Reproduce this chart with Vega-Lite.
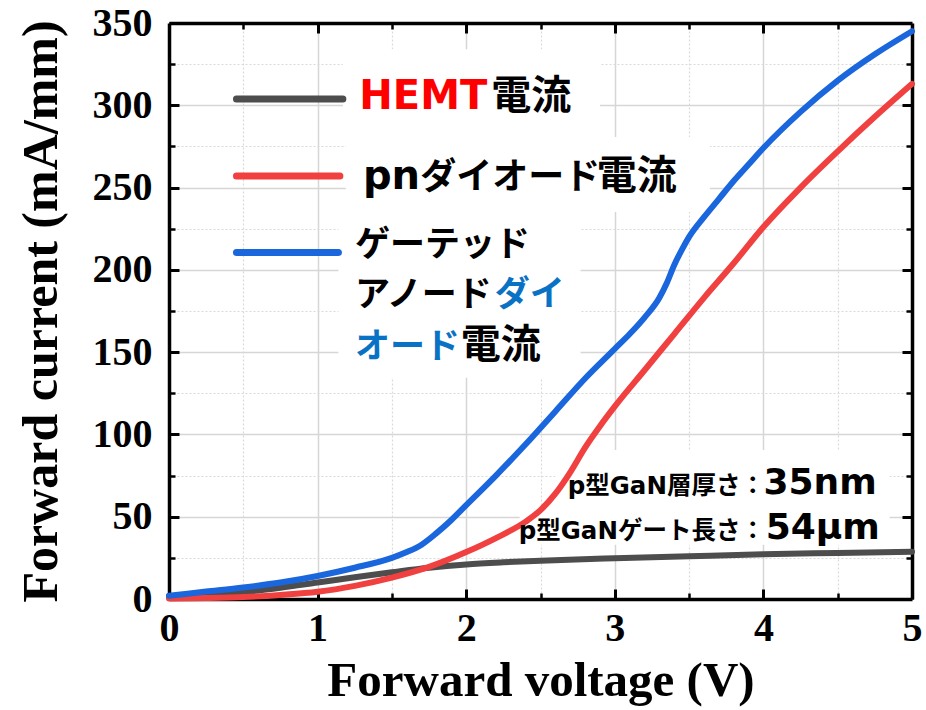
{
  "$schema": "https://vega.github.io/schema/vega-lite/v6.json",
  "width": 743,
  "height": 576,
  "autosize": {"type": "none"},
  "padding": {"left": 169, "top": 23, "right": 14, "bottom": 111},
  "background": "white",
  "config": {"view": {"stroke": null}},
  "datasets": {
    "curves": [
      {"V": 0, "I": 1.5, "s": "HEMT"}, {"V": 0.25, "I": 2.5, "s": "HEMT"}, {"V": 0.5, "I": 4.2, "s": "HEMT"}, {"V": 0.75, "I": 6.8, "s": "HEMT"},
      {"V": 1, "I": 10, "s": "HEMT"}, {"V": 1.25, "I": 13.2, "s": "HEMT"}, {"V": 1.5, "I": 16.2, "s": "HEMT"}, {"V": 1.75, "I": 19, "s": "HEMT"},
      {"V": 2, "I": 21, "s": "HEMT"}, {"V": 2.25, "I": 22.3, "s": "HEMT"}, {"V": 2.5, "I": 23.3, "s": "HEMT"}, {"V": 3, "I": 24.8, "s": "HEMT"},
      {"V": 3.5, "I": 26, "s": "HEMT"}, {"V": 4, "I": 27.2, "s": "HEMT"}, {"V": 4.5, "I": 28, "s": "HEMT"}, {"V": 5, "I": 28.7, "s": "HEMT"},
      {"V": 0, "I": 0.3, "s": "pn"}, {"V": 0.25, "I": 0.6, "s": "pn"}, {"V": 0.5, "I": 1.2, "s": "pn"}, {"V": 0.75, "I": 2.5, "s": "pn"},
      {"V": 1, "I": 4.4, "s": "pn"}, {"V": 1.25, "I": 8, "s": "pn"}, {"V": 1.5, "I": 13, "s": "pn"}, {"V": 1.75, "I": 19.5, "s": "pn"},
      {"V": 2, "I": 28.5, "s": "pn"}, {"V": 2.2, "I": 37, "s": "pn"}, {"V": 2.4, "I": 47, "s": "pn"}, {"V": 2.5, "I": 54, "s": "pn"},
      {"V": 2.6, "I": 64, "s": "pn"}, {"V": 2.7, "I": 77, "s": "pn"}, {"V": 2.8, "I": 92, "s": "pn"}, {"V": 2.9, "I": 105, "s": "pn"},
      {"V": 3, "I": 117, "s": "pn"}, {"V": 3.2, "I": 139, "s": "pn"}, {"V": 3.4, "I": 161, "s": "pn"}, {"V": 3.6, "I": 183, "s": "pn"},
      {"V": 3.8, "I": 204, "s": "pn"}, {"V": 4, "I": 226, "s": "pn"}, {"V": 4.25, "I": 250, "s": "pn"}, {"V": 4.5, "I": 272, "s": "pn"},
      {"V": 4.75, "I": 293, "s": "pn"}, {"V": 5, "I": 313, "s": "pn"},
      {"V": 0, "I": 2, "s": "gated"}, {"V": 0.25, "I": 4.5, "s": "gated"}, {"V": 0.5, "I": 7, "s": "gated"}, {"V": 0.75, "I": 10, "s": "gated"},
      {"V": 1, "I": 14, "s": "gated"}, {"V": 1.25, "I": 19, "s": "gated"}, {"V": 1.5, "I": 25, "s": "gated"}, {"V": 1.6, "I": 28.5, "s": "gated"},
      {"V": 1.7, "I": 33, "s": "gated"}, {"V": 1.8, "I": 40, "s": "gated"}, {"V": 1.9, "I": 48, "s": "gated"}, {"V": 2, "I": 57, "s": "gated"},
      {"V": 2.2, "I": 75, "s": "gated"}, {"V": 2.4, "I": 94, "s": "gated"}, {"V": 2.6, "I": 114, "s": "gated"}, {"V": 2.8, "I": 134, "s": "gated"},
      {"V": 3, "I": 152, "s": "gated"}, {"V": 3.1, "I": 161, "s": "gated"}, {"V": 3.2, "I": 171, "s": "gated"}, {"V": 3.3, "I": 183, "s": "gated"},
      {"V": 3.35, "I": 192, "s": "gated"}, {"V": 3.4, "I": 203, "s": "gated"}, {"V": 3.45, "I": 212, "s": "gated"}, {"V": 3.5, "I": 220, "s": "gated"},
      {"V": 3.6, "I": 232, "s": "gated"}, {"V": 3.7, "I": 243, "s": "gated"}, {"V": 3.8, "I": 254, "s": "gated"}, {"V": 3.9, "I": 264, "s": "gated"},
      {"V": 4, "I": 274, "s": "gated"}, {"V": 4.25, "I": 296, "s": "gated"}, {"V": 4.5, "I": 315, "s": "gated"}, {"V": 4.75, "I": 331, "s": "gated"},
      {"V": 5, "I": 345, "s": "gated"}
    ]
  },
  "layer": [
    {
      "data": {"values": [{}]},
      "mark": {"type": "point", "opacity": 0},
      "encoding": {
        "x": {"datum": 0, "type": "quantitative", "scale": {"domain": [0, 5], "nice": false},
          "axis": {"orient": "bottom", "values": [0.5, 1.5, 2.5, 3.5, 4.5], "labels": false, "title": null, "domain": false,
            "tickSize": -6, "tickWidth": 2.5, "tickColor": "black", "grid": true, "gridColor": "#dadada", "gridWidth": 1.2, "gridDash": [2, 2]}},
        "y": {"datum": 0, "type": "quantitative", "scale": {"domain": [0, 350], "nice": false},
          "axis": {"orient": "left", "values": [25, 75, 125, 175, 225, 275, 325], "labels": false, "title": null, "domain": false,
            "tickSize": -6, "tickWidth": 2.5, "tickColor": "black", "grid": true, "gridColor": "#dadada", "gridWidth": 1.2, "gridDash": [2, 2]}}
      }
    },
    {
      "data": {"values": [{}]},
      "mark": {"type": "point", "opacity": 0},
      "encoding": {
        "x": {"datum": 0, "type": "quantitative", "scale": {"domain": [0, 5], "nice": false},
          "axis": {"orient": "top", "values": [1, 2, 3, 4], "labels": false, "title": null, "domain": true, "domainColor": "black", "domainWidth": 3.5,
            "tickSize": -10, "tickWidth": 3, "tickColor": "black", "grid": false}},
        "y": {"datum": 0, "type": "quantitative", "scale": {"domain": [0, 350], "nice": false},
          "axis": {"orient": "right", "values": [50, 100, 150, 200, 250, 300], "labels": false, "title": null, "domain": true, "domainColor": "black", "domainWidth": 3.5,
            "tickSize": -10, "tickWidth": 3, "tickColor": "black", "grid": false}}
      }
    },
    {
      "data": {"values": [{}]},
      "mark": {"type": "point", "opacity": 0},
      "encoding": {
        "x": {"datum": 0, "type": "quantitative", "scale": {"domain": [0, 5], "nice": false},
          "axis": {"orient": "top", "values": [0.5, 1.5, 2.5, 3.5, 4.5], "labels": false, "title": null, "domain": false,
            "tickSize": -6, "tickWidth": 2.5, "tickColor": "black", "grid": false}},
        "y": {"datum": 0, "type": "quantitative", "scale": {"domain": [0, 350], "nice": false},
          "axis": {"orient": "right", "values": [25, 75, 125, 175, 225, 275, 325], "labels": false, "title": null, "domain": false,
            "tickSize": -6, "tickWidth": 2.5, "tickColor": "black", "grid": false}}
      }
    },
    {"data": {"values": [{}]}, "mark": {"type": "rect", "fill": "white"},
      "encoding": {"x": {"datum": 1.17, "type": "quantitative", "axis": null}, "x2": {"datum": 2.9}, "y": {"datum": 280.7, "type": "quantitative", "axis": null}, "y2": {"datum": 334}}},
    {"data": {"values": [{}]}, "mark": {"type": "rect", "fill": "white"},
      "encoding": {"x": {"datum": 1.19, "type": "quantitative", "axis": null}, "x2": {"datum": 3.64}, "y": {"datum": 235.1, "type": "quantitative", "axis": null}, "y2": {"datum": 280.7}}},
    {"data": {"values": [{}]}, "mark": {"type": "rect", "fill": "white"},
      "encoding": {"x": {"datum": 1.14, "type": "quantitative", "axis": null}, "x2": {"datum": 2.77}, "y": {"datum": 134.5, "type": "quantitative", "axis": null}, "y2": {"datum": 235.1}}},
    {"data": {"values": [{}]}, "mark": {"type": "rect", "fill": "white"},
      "encoding": {"x": {"datum": 2.6, "type": "quantitative", "axis": null}, "x2": {"datum": 4.85}, "y": {"datum": 57.1, "type": "quantitative", "axis": null}, "y2": {"datum": 90.5}}},
    {"data": {"values": [{}]}, "mark": {"type": "rect", "fill": "white"},
      "encoding": {"x": {"datum": 2.36, "type": "quantitative", "axis": null}, "x2": {"datum": 4.85}, "y": {"datum": 33, "type": "quantitative", "axis": null}, "y2": {"datum": 57.1}}},
    {
      "data": {"name": "curves"},
      "mark": {"type": "line", "strokeWidth": 6, "interpolate": "monotone", "strokeCap": "round"},
      "encoding": {
        "x": {"field": "V", "type": "quantitative", "scale": {"domain": [0, 5], "nice": false},
          "axis": {"orient": "bottom", "values": [0, 1, 2, 3, 4, 5], "title": "Forward voltage (V)",
            "titleFont": "Liberation Serif", "titleFontSize": 49, "titleFontWeight": "bold", "titleColor": "black", "titlePadding": 8,
            "labelFont": "Liberation Serif", "labelFontSize": 40, "labelFontWeight": "bold", "labelColor": "black", "labelPadding": 19, "labelFlush": false,
            "tickSize": -10, "tickWidth": 3, "tickColor": "black", "domainColor": "black", "domainWidth": 3.5,
            "grid": true, "gridColor": "#d6d6d6", "gridWidth": 1.5}},
        "y": {"field": "I", "type": "quantitative", "scale": {"domain": [0, 350], "nice": false},
          "axis": {"orient": "left", "values": [0, 50, 100, 150, 200, 250, 300, 350], "title": "Forward current (mA/mm)",
            "titleFont": "Liberation Serif", "titleFontSize": 50, "titleFontWeight": "bold", "titleColor": "black", "titlePadding": 26,
            "labelFont": "Liberation Serif", "labelFontSize": 40, "labelFontWeight": "bold", "labelColor": "black", "labelPadding": 27, "labelFlush": false,
            "tickSize": -10, "tickWidth": 3, "tickColor": "black", "domainColor": "black", "domainWidth": 3.5,
            "grid": true, "gridColor": "#d6d6d6", "gridWidth": 1.5}},
        "color": {"field": "s", "type": "nominal", "scale": {"domain": ["HEMT", "pn", "gated"], "range": ["#4d4d4d", "#f0403f", "#1a66dc"]}, "legend": null},
        "order": {"field": "V", "type": "quantitative"}
      }
    },
    {"data": {"values": [{}]}, "mark": {"type": "rule", "strokeWidth": 7, "strokeCap": "round", "color": "#4d4d4d"},
      "encoding": {"x": {"datum": 0.454, "type": "quantitative", "axis": null}, "x2": {"datum": 1.17}, "y": {"datum": 303.8, "type": "quantitative", "axis": null}}},
    {"data": {"values": [{}]}, "mark": {"type": "rule", "strokeWidth": 7, "strokeCap": "round", "color": "#f0403f"},
      "encoding": {"x": {"datum": 0.454, "type": "quantitative", "axis": null}, "x2": {"datum": 1.15}, "y": {"datum": 257.1, "type": "quantitative", "axis": null}}},
    {"data": {"values": [{}]}, "mark": {"type": "rule", "strokeWidth": 7, "strokeCap": "round", "color": "#1a66dc"},
      "encoding": {"x": {"datum": 0.454, "type": "quantitative", "axis": null}, "x2": {"datum": 1.14}, "y": {"datum": 210.6, "type": "quantitative", "axis": null}}},
    {"data": {"values": [{}]}, "mark": {"type": "text", "text": "HEMT", "font": "DejaVu Sans, Noto Sans CJK JP", "fontWeight": "bold", "fontSize": 40, "color": "#ff0000", "align": "left", "baseline": "alphabetic"},
      "encoding": {"x": {"datum": 1.281, "type": "quantitative", "axis": null}, "y": {"datum": 298.0, "type": "quantitative", "axis": null}}},
    {"data": {"values": [{}]}, "mark": {"type": "text", "text": "電流", "font": "Noto Sans CJK JP", "fontWeight": "bold", "fontSize": 40, "color": "black", "align": "left", "baseline": "alphabetic"},
      "encoding": {"x": {"datum": 2.169, "type": "quantitative", "axis": null}, "y": {"datum": 298.0, "type": "quantitative", "axis": null}}},
    {"data": {"values": [{}]}, "mark": {"type": "text", "text": "pn", "font": "DejaVu Sans", "fontWeight": "bold", "fontSize": 40, "color": "black", "align": "left", "baseline": "alphabetic"},
      "encoding": {"x": {"datum": 1.305, "type": "quantitative", "axis": null}, "y": {"datum": 249.1, "type": "quantitative", "axis": null}}},
    {"data": {"values": [{}]}, "mark": {"type": "text", "text": "ダイオード", "font": "Noto Sans CJK JP", "fontWeight": "bold", "fontSize": 36, "color": "black", "align": "left", "baseline": "alphabetic"},
      "encoding": {"x": {"datum": 1.69, "type": "quantitative", "axis": null}, "y": {"datum": 249.1, "type": "quantitative", "axis": null}}},
    {"data": {"values": [{}]}, "mark": {"type": "text", "text": "電流", "font": "Noto Sans CJK JP", "fontWeight": "bold", "fontSize": 40, "color": "black", "align": "left", "baseline": "alphabetic"},
      "encoding": {"x": {"datum": 2.878, "type": "quantitative", "axis": null}, "y": {"datum": 249.1, "type": "quantitative", "axis": null}}},
    {"data": {"values": [{}]}, "mark": {"type": "text", "text": "ゲーテッド", "font": "Noto Sans CJK JP", "fontWeight": "bold", "fontSize": 35, "color": "black", "align": "left", "baseline": "alphabetic"},
      "encoding": {"x": {"datum": 1.251, "type": "quantitative", "axis": null}, "y": {"datum": 208.4, "type": "quantitative", "axis": null}}},
    {"data": {"values": [{}]}, "mark": {"type": "text", "text": "アノード", "font": "Noto Sans CJK JP", "fontWeight": "bold", "fontSize": 35, "color": "black", "align": "left", "baseline": "alphabetic"},
      "encoding": {"x": {"datum": 1.251, "type": "quantitative", "axis": null}, "y": {"datum": 178.0, "type": "quantitative", "axis": null}}},
    {"data": {"values": [{}]}, "mark": {"type": "text", "text": "ダイ", "font": "Noto Sans CJK JP", "fontWeight": "bold", "fontSize": 35, "color": "#0a72c4", "align": "left", "baseline": "alphabetic"},
      "encoding": {"x": {"datum": 2.192, "type": "quantitative", "axis": null}, "y": {"datum": 178.0, "type": "quantitative", "axis": null}}},
    {"data": {"values": [{}]}, "mark": {"type": "text", "text": "オード", "font": "Noto Sans CJK JP", "fontWeight": "bold", "fontSize": 35, "color": "#0a72c4", "align": "left", "baseline": "alphabetic"},
      "encoding": {"x": {"datum": 1.251, "type": "quantitative", "axis": null}, "y": {"datum": 146.4, "type": "quantitative", "axis": null}}},
    {"data": {"values": [{}]}, "mark": {"type": "text", "text": "電流", "font": "Noto Sans CJK JP", "fontWeight": "bold", "fontSize": 40, "color": "black", "align": "left", "baseline": "alphabetic"},
      "encoding": {"x": {"datum": 1.963, "type": "quantitative", "axis": null}, "y": {"datum": 146.4, "type": "quantitative", "axis": null}}},
    {"data": {"values": [{}]}, "mark": {"type": "text", "text": "p型GaN層厚さ：", "font": "DejaVu Sans, Noto Sans CJK JP", "fontWeight": "bold", "fontSize": 24.5, "color": "black", "align": "right", "baseline": "alphabetic"},
      "encoding": {"x": {"datum": 4.01, "type": "quantitative", "axis": null}, "y": {"datum": 63.8, "type": "quantitative", "axis": null}}},
    {"data": {"values": [{}]}, "mark": {"type": "text", "text": "35nm", "font": "DejaVu Sans", "fontWeight": "bold", "fontSize": 36, "color": "black", "align": "left", "baseline": "alphabetic"},
      "encoding": {"x": {"datum": 4.0, "type": "quantitative", "axis": null}, "y": {"datum": 63.8, "type": "quantitative", "axis": null}}},
    {"data": {"values": [{}]}, "mark": {"type": "text", "text": "p型GaNゲート長さ：", "font": "DejaVu Sans, Noto Sans CJK JP", "fontWeight": "bold", "fontSize": 24.5, "color": "black", "align": "right", "baseline": "alphabetic"},
      "encoding": {"x": {"datum": 4.01, "type": "quantitative", "axis": null}, "y": {"datum": 36.5, "type": "quantitative", "axis": null}}},
    {"data": {"values": [{}]}, "mark": {"type": "text", "text": "54μm", "font": "DejaVu Sans", "fontWeight": "bold", "fontSize": 36, "color": "black", "align": "left", "baseline": "alphabetic"},
      "encoding": {"x": {"datum": 4.015, "type": "quantitative", "axis": null}, "y": {"datum": 36.5, "type": "quantitative", "axis": null}}}
  ],
  "resolve": {"axis": {"x": "independent", "y": "independent"}}
}
